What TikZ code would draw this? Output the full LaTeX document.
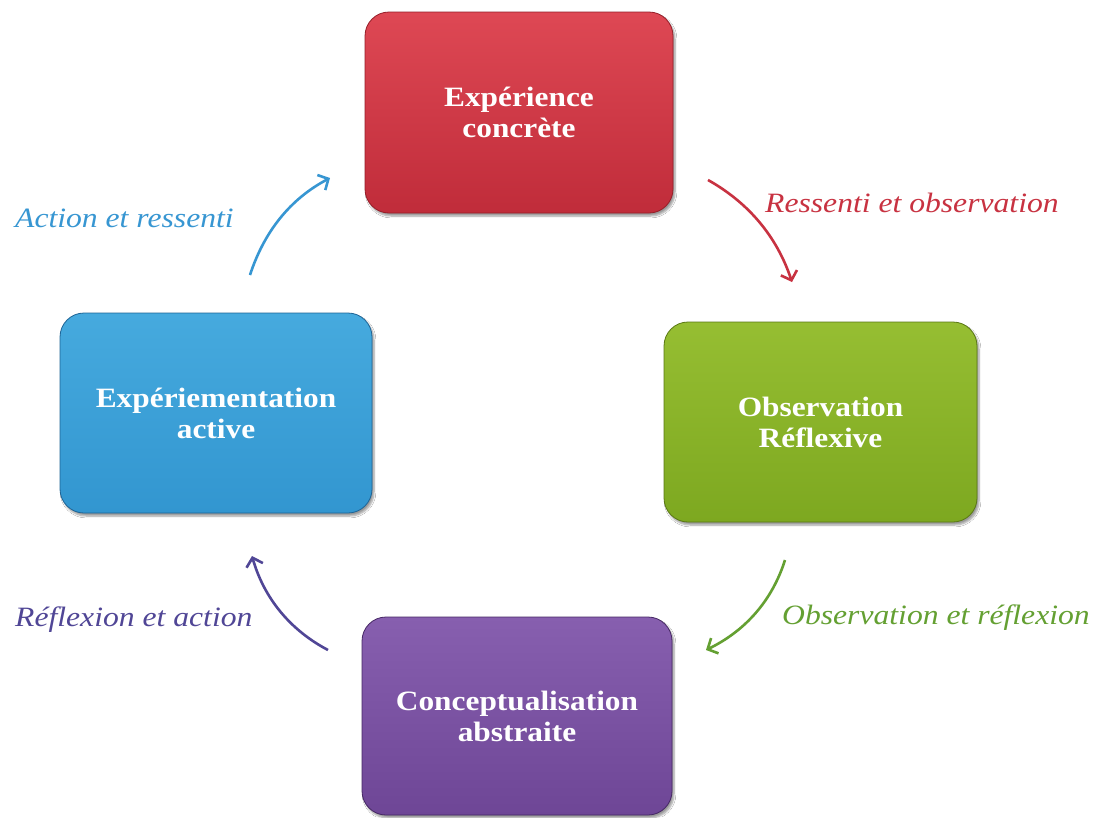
\documentclass[tikz,border=0pt]{standalone}
\usepackage{fontspec}
\setmainfont{Liberation Serif}
\newfontfamily\boxfont[FakeStretch=1.12]{Liberation Serif}
\newfontfamily\lblfont[FakeStretch=1.13]{Liberation Serif}
\usetikzlibrary{arrows.meta,shadows.blur}
\definecolor{redtop}{RGB}{222,72,84}
\definecolor{redbot}{RGB}{192,44,58}
\definecolor{redline}{RGB}{150,30,40}
\definecolor{greentop}{RGB}{150,190,50}
\definecolor{greenbot}{RGB}{125,168,32}
\definecolor{greenline}{RGB}{90,120,20}
\definecolor{bluetop}{RGB}{70,170,222}
\definecolor{bluebot}{RGB}{50,150,208}
\definecolor{blueline}{RGB}{30,100,150}
\definecolor{purtop}{RGB}{135,95,175}
\definecolor{purbot}{RGB}{110,70,150}
\definecolor{purline}{RGB}{70,40,100}
\definecolor{lblred}{RGB}{200,50,65}
\definecolor{lblblue}{RGB}{55,150,210}
\definecolor{lblpur}{RGB}{80,70,150}
\definecolor{lblgreen}{RGB}{100,160,50}
\tikzset{
  stagebox/.style={rounded corners=24pt, line width=0.8pt, align=center,
    text=white, font=\boxfont\bfseries\fontsize{28}{31}\selectfont,
    blur shadow={shadow xshift=2pt, shadow yshift=-3pt, shadow blur steps=6, shadow blur extra rounding=2pt}},
  lbl/.style={anchor=base west, inner sep=0pt, font=\lblfont\itshape\fontsize{28}{31}\selectfont},
  cyc/.style={line width=2.6pt, -{Straight Barb[length=8pt,width=17pt,line width=2.6pt]}}
}
\begin{document}
\begin{tikzpicture}[x=1pt,y=-1pt]
\useasboundingbox[fill=white] (0,0) rectangle (1110,817);
\node[stagebox, draw=redline, top color=redtop, bottom color=redbot,
  minimum width=308pt, minimum height=201pt] (ec) at (519,112.5) {Expérience\\concrète};
\node[stagebox, draw=greenline, top color=greentop, bottom color=greenbot,
  minimum width=313pt, minimum height=200pt] (or) at (820.5,422) {Observation\\Réflexive};
\node[stagebox, draw=blueline, top color=bluetop, bottom color=bluebot,
  minimum width=312pt, minimum height=200pt] (ea) at (216,413) {Expériementation\\active};
\node[stagebox, draw=purline, top color=purtop, bottom color=purbot,
  minimum width=310pt, minimum height=198pt] (ca) at (517,716) {Conceptualisation\\abstraite};

\node[lbl, text=lblred] (l1) at (765,212) {Ressenti et observation};
\node[lbl, text=lblblue] (l4) at (15,227) {Action et ressenti};
\node[lbl, text=lblpur] (l3) at (15,626) {Réflexion et action};
\node[lbl, text=lblgreen] (l2) at (782,624) {Observation et réflexion};

\coordinate (r0) at (708,180); \coordinate (r1) at (792,282);
\coordinate (g0) at (785,560); \coordinate (g1) at (706,650);
\coordinate (p0) at (328,650); \coordinate (p1) at (252,556);
\coordinate (b0) at (250,275); \coordinate (b1) at (330,178);
\draw[cyc, color=lblred] (r0) .. controls (749,203) and (777,237) .. (r1);
\draw[cyc, color=lblgreen] (g0) .. controls (772,601) and (745,631) .. (g1);
\draw[cyc, color=lblpur] (p0) .. controls (290,630) and (264,598) .. (p1);
\draw[cyc, color=lblblue] (b0) .. controls (264,232) and (290,199) .. (b1);
\end{tikzpicture}
\end{document}
